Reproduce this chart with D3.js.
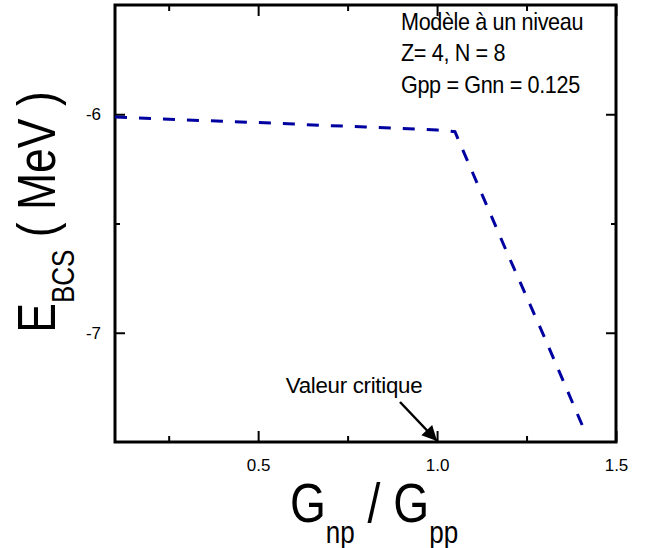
<!DOCTYPE html>
<html>
<head>
<meta charset="utf-8">
<script src="https://cdn.jsdelivr.net/npm/d3@7"></script>
<style>
  body { margin: 0; background: #fff; }
  svg { display: block; font-family: "Liberation Sans", Arial, sans-serif; }
</style>
</head>
<body>
<svg></svg>
<script>
// Gnp/Gpp ratio and BCS energy (MeV)
let ratio  = [0.1, 0.2, 0.3, 0.4, 0.5, 0.6, 0.7, 0.8, 0.9, 1.0, 1.05, 1.1, 1.2, 1.3, 1.41]
let energy = [-6.013, -6.02, -6.026, -6.032, -6.038, -6.045, -6.052, -6.058, -6.065, -6.072, -6.08, -6.27, -6.65, -7.02, -7.44]

let xMajor = [0.5, 1.0, 1.5]
let xMinor = [0.25, 0.75, 1.25]
let yMajor = [-6, -7]
let yMinor = [-6.5]

let notes = ['Modèle à un niveau', 'Z= 4, N = 8', 'Gpp = Gnn = 0.125']

let width = 648
let height = 548
let padLeft = 115, padRight = 616, padTop = 5, padBottom = 442

let svg = d3.select('svg').attr('width', width).attr('height', height)

let xScale = d3.scaleLinear().domain([0.1, 1.5]).range([padLeft, padRight])
let yScale = d3.scaleLinear().domain([-7.5, -5.5]).range([padBottom, padTop])

let styleAxis = (g) => {
  g.select('.domain').remove()
  g.selectAll('line').attr('stroke', '#000').attr('stroke-width', 2)
  g.selectAll('text').attr('fill', '#000').style('font-size', '17px').style('font-family', '"Liberation Sans", Arial, sans-serif')
}

// bottom
svg.append('g').attr('transform', 'translate(0,' + padBottom + ')')
  .call(d3.axisBottom(xScale).tickValues(xMajor).tickSize(-11).tickPadding(17).tickFormat(d3.format('.1f')))
  .call(styleAxis)
svg.append('g').attr('transform', 'translate(0,' + padBottom + ')')
  .call(d3.axisBottom(xScale).tickValues(xMinor).tickSize(-6).tickFormat(''))
  .call(styleAxis)
// top
svg.append('g').attr('transform', 'translate(0,' + padTop + ')')
  .call(d3.axisTop(xScale).tickValues(xMajor).tickSize(-11).tickFormat(''))
  .call(styleAxis)
svg.append('g').attr('transform', 'translate(0,' + padTop + ')')
  .call(d3.axisTop(xScale).tickValues(xMinor).tickSize(-6).tickFormat(''))
  .call(styleAxis)
// left
svg.append('g').attr('transform', 'translate(' + padLeft + ',0)')
  .call(d3.axisLeft(yScale).tickValues(yMajor).tickSize(-10).tickPadding(14).tickFormat((d) => String(d)))
  .call(styleAxis)
svg.append('g').attr('transform', 'translate(' + padLeft + ',0)')
  .call(d3.axisLeft(yScale).tickValues(yMinor).tickSize(-5).tickFormat(''))
  .call(styleAxis)
// right
svg.append('g').attr('transform', 'translate(' + padRight + ',0)')
  .call(d3.axisRight(yScale).tickValues(yMajor).tickSize(-10).tickFormat(''))
  .call(styleAxis)
svg.append('g').attr('transform', 'translate(' + padRight + ',0)')
  .call(d3.axisRight(yScale).tickValues(yMinor).tickSize(-5).tickFormat(''))
  .call(styleAxis)

// frame
svg.append('rect')
  .attr('x', padLeft).attr('y', padTop)
  .attr('width', padRight - padLeft).attr('height', padBottom - padTop)
  .attr('fill', 'none').attr('stroke', '#000').attr('stroke-width', 3)

// curve
let line = d3.line()
  .x((d, i) => xScale(ratio[i]))
  .y((d, i) => yScale(energy[i]))

svg.append('path')
  .datum(ratio)
  .attr('d', line)
  .attr('fill', 'none')
  .attr('stroke', '#0000a0')
  .attr('stroke-width', 3)
  .attr('stroke-dasharray', '12,12')

// notes (text is narrow in the original, so squeeze it a bit)
svg.append('g').attr('transform', 'translate(401,0) scale(0.9,1)')
  .selectAll('text')
  .data(notes)
  .enter()
  .append('text')
  .attr('x', 0)
  .attr('y', (d, i) => 30 + i * 31.5)
  .style('font-size', '24px')
  .style('letter-spacing', '-0.4px')
  .text((d) => d)

// arrow for critical value
svg.append('defs').append('marker')
  .attr('id', 'head')
  .attr('viewBox', '0 0 10 10')
  .attr('refX', 10).attr('refY', 5)
  .attr('markerWidth', 7).attr('markerHeight', 6)
  .attr('markerUnits', 'strokeWidth')
  .attr('orient', 'auto')
  .append('path').attr('d', 'M0,0 L10,5 L0,10 z').attr('fill', '#000')

svg.append('line')
  .attr('x1', 400).attr('y1', 402)
  .attr('x2', xScale(1.0)).attr('y2', padBottom - 1)
  .attr('stroke', '#000').attr('stroke-width', 2.5)
  .attr('marker-end', 'url(#head)')

svg.append('g').attr('transform', 'translate(354,393) scale(0.97,1)')
  .append('text')
  .attr('text-anchor', 'middle')
  .style('font-size', '23px')
  .style('letter-spacing', '-0.3px')
  .text('Valeur critique')

// axis titles
let xt = svg.append('g').attr('transform', 'translate(374,522) scale(0.84,1)')
  .append('text')
  .attr('text-anchor', 'middle')
  .style('font-size', '55px')
xt.append('tspan').text('G')
xt.append('tspan').attr('dy', 21).style('font-size', '31px').text('np')
xt.append('tspan').attr('dy', -21).text(' / G')
xt.append('tspan').attr('dy', 21).style('font-size', '31px').text('pp')

let yt = svg.append('g').attr('transform', 'translate(55,212) rotate(-90) scale(0.84,1)')
  .append('text')
  .attr('text-anchor', 'middle')
  .style('font-size', '53px')
yt.append('tspan').text('E')
yt.append('tspan').attr('dy', 19).style('font-size', '31px').text('BCS')
yt.append('tspan').attr('dy', -19).text(' ( MeV )')
</script>
</body>
</html>
